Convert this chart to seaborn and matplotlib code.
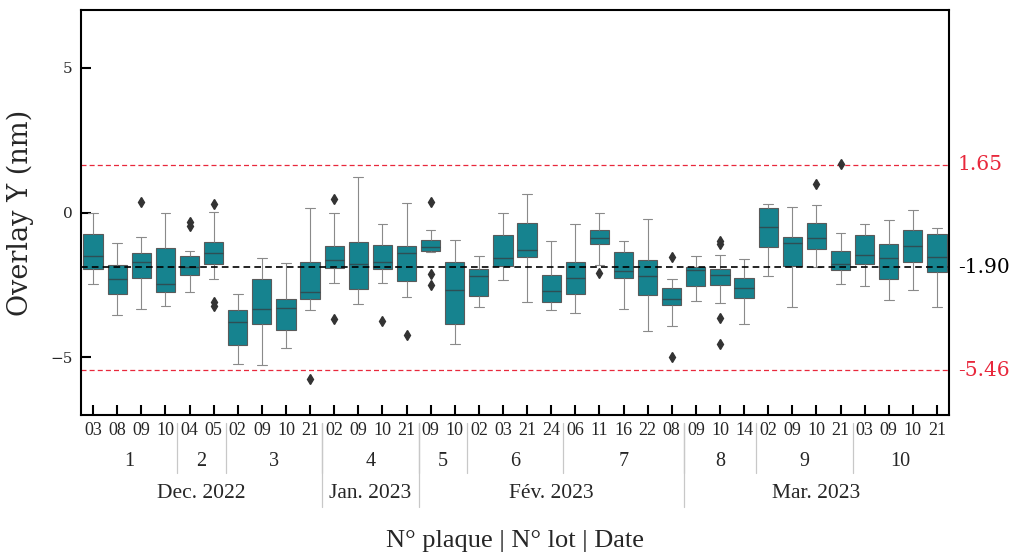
import numpy as np
import pandas as pd
import matplotlib
matplotlib.use("Agg")
import matplotlib.pyplot as plt
import matplotlib.transforms as mtransforms
import seaborn as sns

# Wafer number (day of month) for each measured wafer, in plot order
wafer_labels = ["03", "08", "09", "10", "04", "05", "02", "09", "10", "21",
                "02", "09", "10", "21", "09", "10", "02", "03", "21", "24",
                "06", "11", "16", "22", "08", "09", "10", "14", "02", "09",
                "10", "21", "03", "09", "10", "21"]

# Lot groups: lot number and number of wafers
lots = ["1", "2", "3", "4", "5", "6", "7", "8", "9", "10"]
lot_sizes = [4, 2, 4, 4, 2, 4, 5, 3, 4, 4]

# Month groups: label and number of wafers
months = ["Dec. 2022", "Jan. 2023", "Fév. 2023", "Mar. 2023"]
month_sizes = [10, 4, 11, 11]

# Box statistics per wafer (nm)
whis_lo = [-2.46, -3.56, -3.32, -3.22, -2.74, -2.31, -5.24, -5.26, -4.70, -3.37,
           -2.43, -3.17, -2.44, -2.91, -1.36, -4.56, -3.28, -2.33, -3.11, -3.38,
           -3.46, -1.80, -3.32, -4.11, -3.93, -3.05, -3.14, -3.87, -2.20, -3.25,
           -1.89, -2.46, -2.53, -3.01, -2.67, -3.28]
q1 = [-1.97, -2.80, -2.28, -2.76, -2.16, -1.77, -4.57, -3.86, -4.06, -3.00,
      -1.91, -2.64, -1.95, -2.36, -1.33, -3.85, -2.87, -1.86, -1.54, -3.08,
      -2.80, -1.10, -2.28, -2.84, -3.20, -2.55, -2.52, -2.97, -1.20, -1.86,
      -1.25, -1.98, -1.78, -2.29, -1.72, -2.07]
median = [-1.49, -2.31, -1.72, -2.46, -1.87, -1.41, -3.77, -3.34, -3.29, -2.75,
          -1.64, -1.78, -1.71, -1.41, -1.18, -2.69, -2.18, -1.59, -1.31, -2.71,
          -2.28, -0.87, -2.03, -2.18, -3.00, -2.00, -2.15, -2.60, -0.49, -1.06,
          -0.87, -1.77, -1.46, -1.56, -1.15, -1.53]
q3 = [-0.76, -1.83, -1.40, -1.21, -1.49, -1.02, -3.36, -2.30, -3.00, -1.70,
      -1.15, -1.02, -1.11, -1.17, -0.94, -1.70, -1.94, -0.77, -0.38, -2.15,
      -1.71, -0.61, -1.36, -1.64, -2.62, -1.87, -1.97, -2.25, 0.14, -0.84,
      -0.37, -1.34, -0.78, -1.08, -0.62, -0.75]
whis_hi = [-0.03, -1.07, -0.84, -0.01, -1.32, 0.03, -2.80, -1.59, -1.76, 0.16,
           -0.02, 1.24, -0.41, 0.33, -0.62, -0.94, -1.49, 0.00, 0.64, -0.98,
           -0.41, -0.02, -0.99, -0.22, -2.29, -1.52, -1.47, -1.60, 0.30, 0.18,
           0.26, -0.71, -0.39, -0.26, 0.09, -0.53]
outliers = [[], [], [0.37], [], [-0.33, -0.45], [0.30, -3.09, -3.23], [], [], [], [-5.76],
            [0.45, -3.67], [], [-3.76], [-4.24], [0.36, -2.11, -2.52], [], [], [], [], [],
            [], [-2.09], [], [], [-1.54, -4.99], [], [-1.00, -1.10, -3.66, -4.56], [], [], [],
            [1.00], [1.69], [], [], [], []]

# Reference levels (nm)
upper_limit = 1.65
target = -1.90
lower_limit = -5.46


def wafer_observations(lo, a, m, b, hi, extra, k=20):
    """Observation set whose quartiles/whiskers reproduce the given statistics."""
    return [lo] + [a] * k + [m] * k + [b] * k + [hi] + list(extra)


slots = [f"w{i:02d}" for i in range(len(wafer_labels))]
rows = []
for i, s in enumerate(slots):
    for v in wafer_observations(whis_lo[i], q1[i], median[i], q3[i], whis_hi[i], outliers[i]):
        rows.append((s, v))
df = pd.DataFrame(rows, columns=["slot", "overlay"])

sns.set_theme(style="ticks")
plt.rcParams["font.family"] = ["DejaVu Serif"]

fig = plt.figure(figsize=(10.16, 5.56), dpi=100)
ax = fig.add_axes([81 / 1016, 1 - 415 / 556, 868 / 1016, 405 / 556])

teal = "#16838f"
sns.boxplot(data=df, x="slot", y="overlay", order=slots, ax=ax,
            color=teal, saturation=1, width=0.8,
            linecolor="#5a5a5a", linewidth=0.8,
            medianprops=dict(color="#2e4e54", linewidth=1.0),
            whiskerprops=dict(color="#8a8a8a", linewidth=0.8),
            capprops=dict(color="#8a8a8a", linewidth=0.8),
            flierprops=dict(marker="d", markerfacecolor="#333333",
                            markeredgecolor="#333333", markersize=5))

red = "#e8283c"
ax.axhline(upper_limit, color=red, ls=(0, (4, 2.5)), lw=0.9, zorder=0)
ax.axhline(lower_limit, color=red, ls=(0, (4, 2.5)), lw=0.9, zorder=0)
ax.axhline(target, color="black", ls=(0, (4, 2.5)), lw=1.2, zorder=3)

ax.set_xlim(-0.5, len(slots) - 0.5)
ax.set_ylim(-7, 7)
ax.set_yticks([-5, 0, 5])
ax.set_yticklabels(["\u22125", "0", "5"], fontsize=11, family="DejaVu Serif")
ax.set_xticks(range(len(slots)))
ax.set_xticklabels(wafer_labels, fontsize=13, family="Liberation Serif")
ax.tick_params(axis="both", direction="in", length=7, width=1.5, color="black")
ax.tick_params(axis="x", pad=5)
ax.tick_params(axis="y", pad=6)
for sp in ax.spines.values():
    sp.set_visible(True)
    sp.set_linewidth(1.5)
    sp.set_color("black")

ax.set_xlabel("")
ax.set_ylabel("Overlay Y (nm)", fontsize=19.5, family="DejaVu Serif", labelpad=12)

# Reference values written to the right of the plot
yt = mtransforms.blended_transform_factory(ax.transAxes, ax.transData)
ax.text(1.01, upper_limit, f"{upper_limit:.2f}", color=red, fontsize=14.5,
        va="center", ha="left", transform=yt, family="DejaVu Serif")
ax.text(1.01, target, f"{target:.2f}", color="black", fontsize=14.5,
        va="center", ha="left", transform=yt, family="DejaVu Serif")
ax.text(1.01, lower_limit, f"{lower_limit:.2f}", color=red, fontsize=14.5,
        va="center", ha="left", transform=yt, family="DejaVu Serif")

# Grouped category labels under the wafer ticks
xt = mtransforms.blended_transform_factory(ax.transData, ax.transAxes)
sep_color = "#c8c8c8"
y_top, y_lot_end, y_month_end = -0.020, -0.143, -0.227

start = 0
for lot, n in zip(lots, lot_sizes):
    ax.text(start + (n - 1) / 2, -0.114, lot, transform=xt, ha="center", va="center",
            fontsize=14.5, family="Liberation Serif", clip_on=False)
    start += n
    if start < len(slots):
        ax.plot([start - 0.5, start - 0.5], [y_top, y_lot_end], transform=xt,
                color=sep_color, lw=0.9, clip_on=False)

start = 0
for month, n in zip(months, month_sizes):
    ax.text(start + (n - 1) / 2, -0.193, month, transform=xt, ha="center", va="center",
            fontsize=15.5, family="Liberation Serif", clip_on=False)
    start += n
    if start < len(slots):
        ax.plot([start - 0.5, start - 0.5], [y_top, y_month_end], transform=xt,
                color=sep_color, lw=0.9, clip_on=False)

ax.text(0.5, -0.312, "N° plaque | N° lot | Date", transform=ax.transAxes,
        ha="center", va="center", fontsize=19, family="Liberation Serif")

fig.savefig("out.png", dpi=100, facecolor="white")
